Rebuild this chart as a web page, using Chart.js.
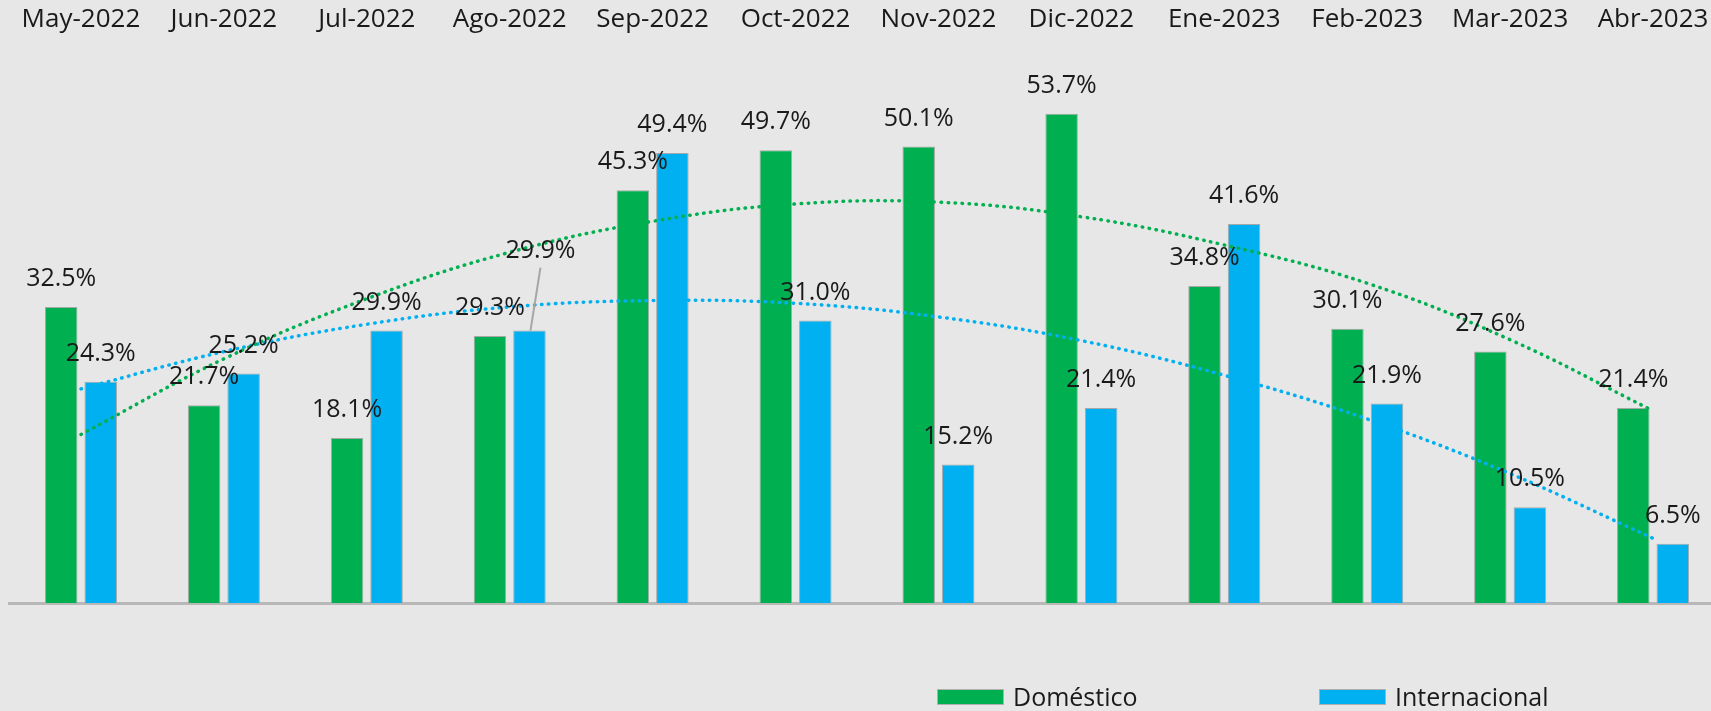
<!DOCTYPE html>
<html>
<head>
<meta charset="utf-8">
<script src="https://cdn.jsdelivr.net/npm/chart.js@4/dist/chart.umd.min.js"></script>
<style>
  html, body { margin: 0; padding: 0; background: #e7e7e7; overflow: hidden; }
  #wrap { width: 1725px; height: 711px; }
</style>
</head>
<body>
<div id="wrap"><canvas id="chart" width="1725" height="711"></canvas></div>
<script>
const months = [
  "May-2022", "Jun-2022", "Jul-2022", "Ago-2022", "Sep-2022", "Oct-2022",
  "Nov-2022", "Dic-2022", "Ene-2023", "Feb-2023", "Mar-2023", "Abr-2023",
];
const domestico = [32.5, 21.7, 18.1, 29.3, 45.3, 49.7, 50.1, 53.7, 34.8, 30.1, 27.6, 21.4];
const internacional = [24.3, 25.2, 29.9, 29.9, 49.4, 31.0, 15.2, 21.4, 41.6, 21.9, 10.5, 6.5];
// trend lines
const trendDomestico = [18.5, 26.8, 33.4, 38.5, 41.9, 43.8, 44.0, 42.4, 39.3, 35.1, 28.9, 21.1];
const trendInternacional = [23.5, 27.6, 30.6, 32.5, 33.2, 32.9, 31.4, 28.8, 25.0, 20.2, 14.2, 7.1];

const GREEN = "#00b050";
const BLUE = "#00b0f0";
const TEXT = "#1a1a1a";

// label nudges: "datasetIndex-index": [dx, dy]
const labelShift = { "1-3": [11, -52] };

const valueLabels = {
  id: "valueLabels",
  afterDraw(chart) {
    const ctx = chart.ctx;
    ctx.save();
    ctx.font = "25px 'Open Sans'";
    ctx.fillStyle = TEXT;
    ctx.textAlign = "center";
    ctx.textBaseline = "middle";
    chart.data.datasets.forEach((ds, di) => {
      if (ds.type === "line") return;
      chart.getDatasetMeta(di).data.forEach((bar, i) => {
        const shift = labelShift[di + "-" + i] || [0, 0];
        const x = bar.x + shift[0];
        const y = bar.y - 28 + shift[1];
        if (shift[1] !== 0) {
          ctx.strokeStyle = "#a6a6a6";
          ctx.lineWidth = 2;
          ctx.beginPath();
          ctx.moveTo(x, y + 17);
          ctx.lineTo(bar.x + 1, bar.y);
          ctx.stroke();
        }
        ctx.fillText(ds.data[i].toFixed(1) + "%", x, y);
      });
    });
    ctx.restore();
  },
};

const bottomLegend = {
  id: "bottomLegend",
  afterDraw(chart) {
    const ctx = chart.ctx;
    const spots = [937, 1319];
    ctx.save();
    ctx.font = "25px 'Open Sans'";
    ctx.textBaseline = "alphabetic";
    ctx.textAlign = "left";
    chart.data.datasets.filter((d) => d.type !== "line").forEach((ds, k) => {
      ctx.fillStyle = ds.backgroundColor;
      ctx.fillRect(spots[k], 689, 67, 16);
      ctx.strokeStyle = "#b0b0b0";
      ctx.lineWidth = 1;
      ctx.strokeRect(spots[k] + 0.5, 689.5, 66, 15);
      ctx.fillStyle = TEXT;
      ctx.fillText(ds.label, spots[k] + 76, 706);
    });
    ctx.restore();
  },
};

new Chart(document.getElementById("chart"), {
  type: "bar",
  data: {
    labels: months,
    datasets: [
      {
        label: "Doméstico",
        data: domestico,
        backgroundColor: GREEN,
        borderColor: "#a8a8a8",
        borderWidth: 1,
        categoryPercentage: 0.553,
        barPercentage: 0.823,
        order: 2,
      },
      {
        label: "Internacional",
        data: internacional,
        backgroundColor: BLUE,
        borderColor: "#a8a8a8",
        borderWidth: 1,
        categoryPercentage: 0.553,
        barPercentage: 0.823,
        order: 2,
      },
      {
        type: "line",
        label: "Tendencia Doméstico",
        data: trendDomestico,
        borderColor: GREEN,
        borderWidth: 3.5,
        borderDash: [0.5, 6.5],
        borderCapStyle: "round",
        tension: 0.4,
        pointRadius: 0,
        fill: false,
        order: 1,
      },
      {
        type: "line",
        label: "Tendencia Internacional",
        data: trendInternacional,
        borderColor: BLUE,
        borderWidth: 3.5,
        borderDash: [0.5, 6.5],
        borderCapStyle: "round",
        tension: 0.4,
        pointRadius: 0,
        fill: false,
        order: 1,
      },
    ],
  },
  options: {
    responsive: false,
    devicePixelRatio: 1,
    animation: false,
    layout: {
      padding: { left: 9.5, right: 0.5, top: 1, bottom: 108 },
    },
    plugins: {
      legend: { display: false },
      tooltip: { enabled: false },
    },
    scales: {
      x: {
        position: "bottom",
        grid: { display: false, drawTicks: false },
        ticks: { display: false },
        border: { display: true, color: "#b8b8b8", width: 3 },
      },
      xTop: {
        type: "category",
        position: "top",
        labels: months,
        grid: { display: false, drawTicks: false },
        border: { display: false },
        ticks: {
          color: TEXT,
          padding: 3,
          maxRotation: 0,
          autoSkip: false,
          font: { family: "'Open Sans'", size: 26 },
        },
      },
      y: {
        display: false,
        min: 0,
        max: 62,
      },
    },
  },
  plugins: [valueLabels, bottomLegend],
});
</script>
</body>
</html>
